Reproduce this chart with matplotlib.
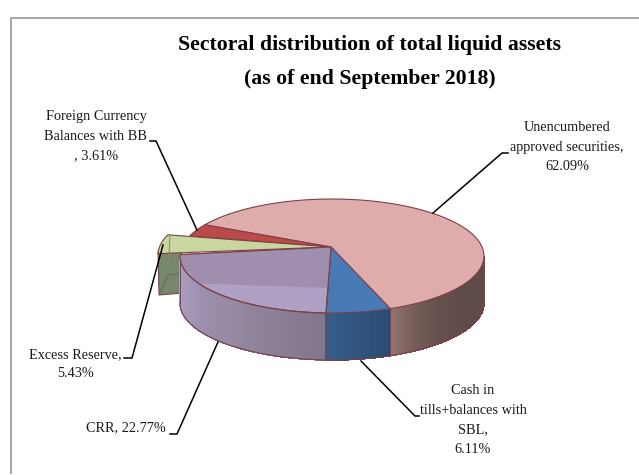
import numpy as np
import matplotlib
matplotlib.use("Agg")
import matplotlib.pyplot as plt
from matplotlib.colors import to_rgb
from matplotlib.patches import Polygon

# slice values, clockwise on screen starting from the unencumbered/cash boundary
labels = ["Cash in\ntills+balances with\nSBL,\n6.11%",
          "CRR, 22.77%",
          "Excess Reserve,\n5.43%",
          "Foreign Currency\nBalances with BB\n, 3.61%",
          "Unencumbered\napproved securities,\n62.09%"]
shares = [6.11, 22.77, 5.43, 3.61, 62.09]
top_colors = ["#4a7ab5", "#afa1c4", "#c8d6a0", "#bb4a48", "#deadab"]
title_lines = "Sectoral distribution of total liquid assets\n(as of end September 2018)"

cx, cy, rx, ry = 332, 256, 152, 57
apex = (331, 247)
depth = 47
start = 70
persp = 0.13  # front of the pie looks wider than the back
edge = "#7d4048"

plt.rcParams["font.family"] = ["Liberation Serif", "DejaVu Serif"]
fig = plt.figure(figsize=(6.39, 4.75), dpi=100)
ax = fig.add_axes([0, 0, 1, 1])
ax.set_xlim(0, 639)
ax.set_ylim(475, 0)
ax.axis("off")

# only the top and left of the chart border are in the picture
ax.plot([10.5, 10.5, 639], [473, 17.5, 17.5], color="#a6a6a6", lw=1.4, zorder=0)


def warp(a):
    return a - persp * np.degrees(np.cos(np.radians(a)))


def arc(t0, t1, dx=0, dy=0):
    t = np.radians(np.linspace(t0, t1, 60))
    return np.column_stack([cx + rx * np.cos(t) + dx, cy + ry * np.sin(t) + dy])


def side(t0, t1, c0, c1, z, power=1.0):
    # outer wall as thin strips so the shading fades along the rim
    t0, t1 = max(t0, 0), min(t1, 180)
    steps = np.linspace(t0, t1, 41)
    c0, c1 = np.array(to_rgb(c0)), np.array(to_rgb(c1))
    for i in range(40):
        p = arc(steps[i], steps[i + 1])
        q = np.vstack([p, (p + [0, depth])[::-1]])
        f = (i / 39) ** power
        col = c0 * (1 - f) + c1 * f
        ax.add_patch(Polygon(q, fc=col, ec=col, lw=0.5, antialiased=False, zorder=z))
    low = arc(t0, t1, 0, depth)
    ax.plot(low[:, 0], low[:, 1], color=edge, lw=0.8, zorder=z + 0.1)
    for t in (t0, t1):
        p = arc(t, t)[0]
        ax.plot([p[0], p[0]], [p[1], p[1] + depth], color=edge, lw=0.7, zorder=z + 0.1)


def face(t0, t1, color, z, dx=0, dy=0):
    pts = np.vstack([[apex], arc(t0, t1, dx, dy)])
    patch = Polygon(pts, closed=True, fc=color, ec=edge, lw=0.8, zorder=z)
    ax.add_patch(patch)
    return patch, pts


# turn shares into angles on the ellipse
bounds = warp(start + np.cumsum([0] + [s * 3.6 for s in shares]))
cash = bounds[0], bounds[1]
crr = bounds[1], bounds[2]
excess = bounds[2], bounds[3]
foreign = bounds[3], bounds[4]
unenc = bounds[4], bounds[5]

# pink slice wraps past 360 so its visible wall runs from 0 on to the start
side(0, bounds[0], "#5f4b48", "#92736f", 2, power=5)
face(unenc[0], unenc[1], top_colors[4], 3)
face(foreign[0], foreign[1], top_colors[3], 4)

# exploded excess reserve slice with see-through box walls
ex_dx, ex_dy = -22, -1
a = arc(excess[0], excess[1], ex_dx, ex_dy)
left = a[:, 0].min()
ax.add_patch(Polygon([[left, a[0, 1] - 2], [182, a[0, 1] - 2], [182, 293], [left + 1, 295]],
                     fc="#76876a", ec=edge, lw=0.8, zorder=5))
face(excess[0], excess[1], top_colors[2], 5.1, ex_dx, ex_dy)
ax.plot([160, 168, 182], [293, 275, 273], color="#5c6b55", lw=0.7, zorder=5.2)
ax.plot([170, 168], [235, 275], color="#7d8c6c", lw=0.7, zorder=5.2)

side(crr[0], crr[1], "#827689", "#ac9fc4", 6)
side(cash[0], cash[1], "#2b4a70", "#355e8b", 6)
face(cash[0], cash[1], top_colors[0], 7)
crr_patch, crr_pts = face(crr[0], crr[1], top_colors[1], 7)

# inner wall showing through the transparent CRR top
wall = Polygon([apex, crr_pts[-1], [180, 283], [331, 288]], fc="#a08eae", ec="none", zorder=7.1)
ax.add_patch(wall)
wall.set_clip_path(crr_patch)
ax.add_patch(Polygon(crr_pts, closed=True, fc="none", ec=edge, lw=0.8, zorder=7.2))

# leader lines
leaders = [([150, 156, 197], [141, 141, 230]),
           ([433, 502, 508], [213, 153, 153]),
           ([361, 415, 419], [361, 416, 416]),
           ([218, 177, 170], [342, 434, 434]),
           ([163, 132, 124], [245, 358, 358])]
for xs, ys in leaders:
    ax.plot(xs, ys, color="black", lw=1.1, zorder=9)

ax.text(370, 62, title_lines, ha="center", va="center", fontsize=15.7, fontweight="bold",
        linespacing=1.87, zorder=10)

label_pos = [(473, 420, "center", "center"), (166, 428, "right", "center"),
             (75, 364, "center", "center"), (96, 136, "center", "center"),
             (567, 147, "center", "center")]
for text, (x, y, ha, va) in zip(labels, label_pos):
    ax.text(x, y, text, ha=ha, va=va, fontsize=10.3, linespacing=1.66, color="#1a1a1a", zorder=10)

fig.savefig("out.png", dpi=100)
